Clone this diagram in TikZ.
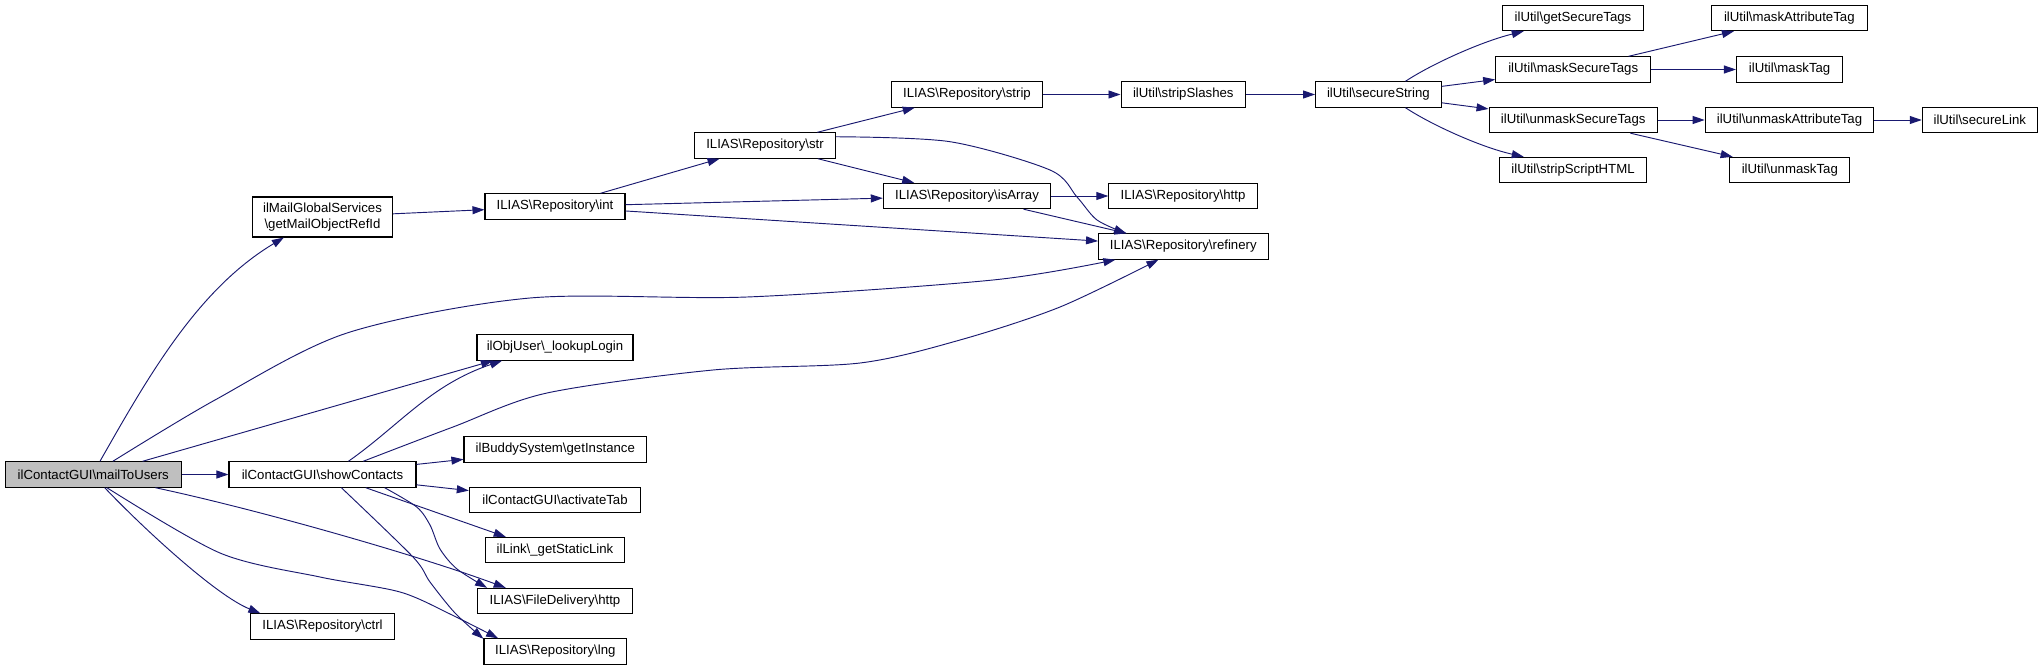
\documentclass[tikz,border=0pt]{standalone}
\usepackage{fontspec}
\setmainfont{Liberation Sans}
\usetikzlibrary{arrows.meta}
\newcommand{\bs}{\textbackslash}

\begin{document}
\begin{tikzpicture}[x=0.75pt,y=-0.75pt,
  fn/.style={draw=black,line width=0.8pt,fill=white,inner sep=0pt,minimum height=19pt,font=\fontsize{9.9}{11.5}\selectfont},
  call/.style={draw=edgeColor,line width=0.7pt,-{Triangle[length=9pt,width=6pt]}}]
\definecolor{edgeColor}{RGB}{25,25,112}
\definecolor{fillColor}{RGB}{191,191,191}
\path[use as bounding box,fill=white] (0,0) rectangle (2043,671);

\node[fn,minimum width=132pt,fill=fillColor] (mailToUsers) at (93.25,474.5) {ilContactGUI\bs mailToUsers};
\node[fn,minimum width=140.25pt] (showContacts) at (322.5,474.5) {ilContactGUI\bs showContacts};
\node[fn,minimum width=105pt,minimum height=30pt,align=center] (getMailObjectRefId) at (322.5,217) {ilMailGlobalServices\\\bs getMailObjectRefId};
\node[fn,minimum width=105pt] (repoInt) at (555,206.5) {ILIAS\bs Repository\bs int};
\node[fn,minimum width=117pt] (lookupLogin) at (555,347.5) {ilObjUser\bs\_lookupLogin};
\node[fn,minimum width=137pt] (getInstance) at (555.3,449.5) {ilBuddySystem\bs getInstance};
\node[fn,minimum width=128.5pt] (activateTab) at (555,500) {ilContactGUI\bs activateTab};
\node[fn,minimum width=104.25pt] (getStaticLink) at (555,550) {ilLink\bs\_getStaticLink};
\node[fn,minimum width=116.25pt] (fileHttp) at (555,601) {ILIAS\bs FileDelivery\bs http};
\node[fn,minimum width=108.3pt] (repoCtrl) at (322.5,626.5) {ILIAS\bs Repository\bs ctrl};
\node[fn,minimum width=107pt] (repoLng) at (555.3,651.5) {ILIAS\bs Repository\bs lng};
\node[fn,minimum width=113.25pt] (repoStrip) at (967,94.5) {ILIAS\bs Repository\bs strip};
\node[fn,minimum width=93.4pt] (stripSlashes) at (1183.3,94.5) {ilUtil\bs stripSlashes};
\node[fn,minimum width=106pt] (repoStr) at (765,145.5) {ILIAS\bs Repository\bs str};
\node[fn,minimum width=125.5pt] (repoIsArray) at (967,196) {ILIAS\bs Repository\bs isArray};
\node[fn,minimum width=111.2pt] (repoHttp) at (1183,196) {ILIAS\bs Repository\bs http};
\node[fn,minimum width=127.1pt] (repoRefinery) at (1183.3,246.5) {ILIAS\bs Repository\bs refinery};
\node[fn,minimum width=94.2pt] (secureString) at (1378.4,94.5) {ilUtil\bs secureString};
\node[fn,minimum width=105.2pt] (getSecureTags) at (1573,18) {ilUtil\bs getSecureTags};
\node[fn,minimum width=116.25pt] (maskSecureTags) at (1573.2,69.5) {ilUtil\bs maskSecureTags};
\node[fn,minimum width=126.2pt] (unmaskSecureTags) at (1573.2,120) {ilUtil\bs unmaskSecureTags};
\node[fn,minimum width=110.2pt] (stripScriptHTML) at (1573,170) {ilUtil\bs stripScriptHTML};
\node[fn,minimum width=117pt] (maskAttributeTag) at (1789.3,18) {ilUtil\bs maskAttributeTag};
\node[fn,minimum width=79.7pt] (maskTag) at (1789.6,69.5) {ilUtil\bs maskTag};
\node[fn,minimum width=126.5pt] (unmaskAttributeTag) at (1789.5,120) {ilUtil\bs unmaskAttributeTag};
\node[fn,minimum width=90pt] (unmaskTag) at (1789.8,170) {ilUtil\bs unmaskTag};
\node[fn,minimum width=86.3pt] (secureLink) at (1979.8,120) {ilUtil\bs secureLink};

% calls of mailToUsers
\draw[call] (mailToUsers.63) .. controls (149,375) and (198,289) .. (getMailObjectRefId.-152);
\draw[call] plot[smooth] coordinates {(mailToUsers.34) (215,400) (347,333) (530,298) (747,297) (993,280) (repoRefinery.-169)};
\draw[call] (mailToUsers.15) -- (lookupLogin.-168);
\draw[call] (mailToUsers) -- (showContacts);
\draw[call] (mailToUsers.-12) .. controls (260,510) and (420,556) .. (fileHttp.165);
\draw[call] plot[smooth] coordinates {(mailToUsers.-44) (220,553) (320,577) (400,592) (450,614) (repoLng.167)};
\draw[call] (mailToUsers.-49) .. controls (140,525) and (215,595) .. (repoCtrl.168);

% calls of showContacts
\draw[call] (showContacts.27) .. controls (400,425) and (430,385) .. (lookupLogin.-166);
\draw[call] plot[smooth] coordinates {(showContacts.18) (453,427) (547,393) (713,370) (860,363) (960,340) (1060,307) (repoRefinery.-152)};
\draw[call] (showContacts) -- (getInstance);
\draw[call] (showContacts) -- (activateTab);
\draw[call] (showContacts.-17) -- (getStaticLink.165);
\draw[call] plot[smooth] coordinates {(showContacts.-12) (416.7,507) (430,525) (440,549) (457,569) (fileHttp.169)};
\draw[call] plot[smooth] coordinates {(showContacts.-35) (413,557) (430,582) (455,613) (repoLng.170)};

% repository calls
\draw[call] (getMailObjectRefId) -- (repoInt);
\draw[call] (repoInt) -- (repoStr);
\draw[call] (repoInt) -- (repoIsArray);
\draw[call] (repoInt) -- (repoRefinery);
\draw[call] (repoStr) -- (repoStrip);
\draw[call] (repoStr) -- (repoIsArray);
\draw[call] plot[smooth] coordinates {(repoStr.7) (950,141.7) (1050,170) (1077,197) (1097,220) (repoRefinery.167)};
\draw[call] (repoStrip) -- (stripSlashes);
\draw[call] (stripSlashes) -- (secureString);
\draw[call] (repoIsArray) -- (repoHttp);
\draw[call] (repoIsArray) -- (repoRefinery);

% ilUtil calls
\draw[call] (secureString.26) .. controls (1430,65) and (1480,42) .. (getSecureTags.-165);
\draw[call] (secureString) -- (maskSecureTags);
\draw[call] (secureString) -- (unmaskSecureTags);
\draw[call] (secureString.-26) .. controls (1430,124) and (1480,147) .. (stripScriptHTML.165);
\draw[call] (maskSecureTags) -- (maskAttributeTag);
\draw[call] (maskSecureTags) -- (maskTag);
\draw[call] (unmaskSecureTags) -- (unmaskAttributeTag);
\draw[call] (unmaskSecureTags) -- (unmaskTag);
\draw[call] (unmaskAttributeTag) -- (secureLink);
\end{tikzpicture}
\end{document}
